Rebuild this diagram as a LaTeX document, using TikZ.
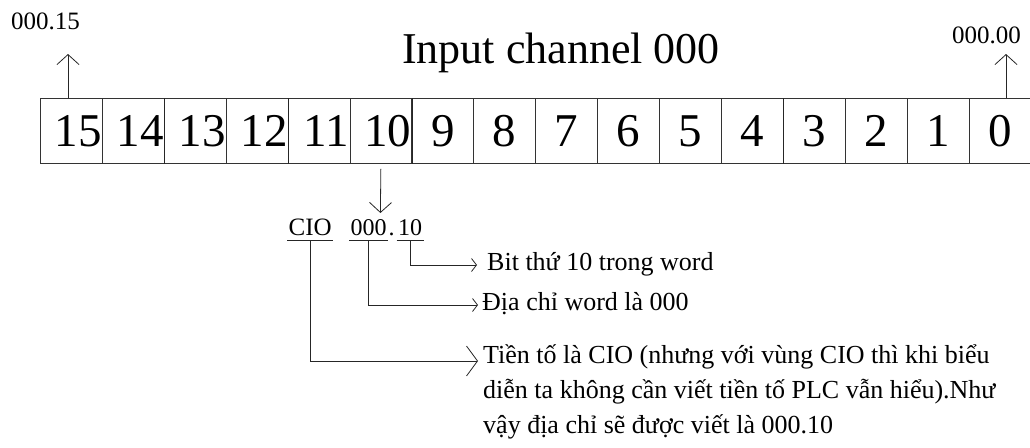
\documentclass[tikz,border=0pt]{standalone}
\usepackage{fontspec}
\setmainfont{Liberation Serif}
\usetikzlibrary{arrows.meta}

\tikzset{
  cellbox/.style={draw=black!80, line width=0.8pt, minimum width=61.9pt,
    minimum height=65pt, inner sep=0pt, anchor=north west},
  digit/.style={font=\fontsize{47pt}{47pt}\selectfont, inner sep=0pt},
  titletext/.style={font=\fontsize{44pt}{44pt}\selectfont, inner sep=0pt},
  bitlabel/.style={font=\fontsize{25pt}{25pt}\selectfont, inner sep=0pt},
  addr/.style={font=\fontsize{25pt}{25pt}\selectfont, inner xsep=1.5pt,
    inner ysep=0pt, text depth=5pt, anchor=base west},
  body/.style={font=\fontsize{26pt}{35pt}\selectfont, inner sep=0pt, anchor=base west},
  wire/.style={draw=black!85, line width=0.8pt},
  bigbarb/.style={wire, -{Straight Barb[length=10pt,width=22pt]}},
  smallbarb/.style={wire, -{Straight Barb[length=5pt,width=13pt]}},
  tallbarb/.style={wire, -{Straight Barb[length=11pt,width=30pt]}},
}

\begin{document}
\begin{tikzpicture}[x=1pt,y=-1pt]
\useasboundingbox (0,0) rectangle (1030,447);

% the sixteen bit cells of the channel, bit 15 on the left
\foreach \b [count=\i from 0] in {15,14,...,0}{
  \node[cellbox] (c\b) at ({40+61.9*\i},98) {};
  \pgfmathsetmacro\dx{\b>9 ? 7 : 0}
  \node[digit] (d\b) at ([xshift=\dx pt]c\b.center) {\b};
}
% heavier separators between some cells
\foreach \b in {14,12,10,4}{
  \draw[black!85, line width=1.3pt] (c\b.north east) -- (c\b.south east);
}

% heading and end-bit addresses
\node[titletext, anchor=base] (title) at (561,63) {Input channel 000};
\node[bitlabel, anchor=base west] (l15) at (11,29) {000.15};
\node[bitlabel, anchor=base east] (l0) at (1021,43) {000.00};

\coordinate (tip15) at (68,54);
\coordinate (tip0) at (1006,54);
\draw[bigbarb] (tip15 |- c15.north) -- (tip15);
\draw[bigbarb] (tip0 |- c0.north) -- (tip0);

% bit 10 is picked out
\coordinate (tip10) at (380.4,213);
\draw[bigbarb] ([yshift=-5pt]c10.south) -- (tip10);

% the address CIO 000. 10, split into its parts
\node[addr] (cio) at (287,235) {CIO};
\node[addr, font=\fontsize{24pt}{24pt}\selectfont] (word) at (349,235) {000};
\node[addr, inner xsep=0pt, font=\fontsize{24pt}{24pt}\selectfont] (dot) at (word.base east) {.};
\node[addr, font=\fontsize{24pt}{24pt}\selectfont] (bitno) at (396.5,235) {10};
\foreach \n in {cio,word,bitno}{
  \draw[wire] (\n.south west) -- (\n.south east);
}

% explanations of each part
\node[body] (bitexp) at (487,270) {Bit thứ 10 trong word};
\node[body] (wordexp) at (482,310) {Địa chỉ word là 000};
\node[body] (pre1) at (483,363) {Tiền tố là CIO (nhưng với vùng CIO thì khi biểu};
\node[body] (pre2) at (483,398) {diễn ta không cần viết tiền tố PLC vẫn hiểu).Như};
\node[body] (pre3) at (483,433) {vậy địa chỉ sẽ được viết là 000.10};

\coordinate (bitend) at (477,265);
\coordinate (wordend) at (478,305);
\coordinate (preend) at (478,361);
\draw[smallbarb] (bitno.south) |- (bitend);
\draw[smallbarb] (word.south) |- (wordend);
\draw[tallbarb] (cio.south) |- (preend);
\end{tikzpicture}
\end{document}
